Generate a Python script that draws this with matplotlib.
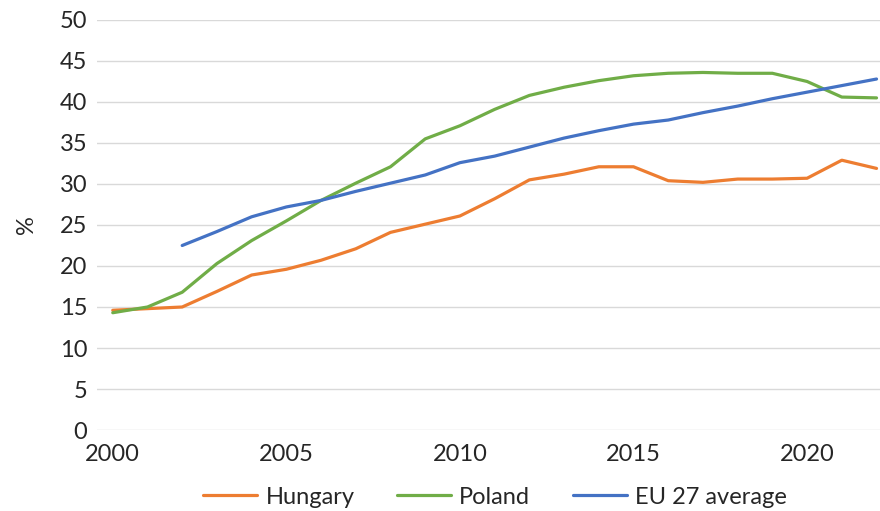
import matplotlib
matplotlib.use("Agg")
import matplotlib.pyplot as plt

plt.rcParams['font.family'] = ['Lato', 'DejaVu Sans']

years = list(range(2000, 2023))
hungary = [14.6, 14.8, 15.0, 16.9, 18.9, 19.6, 20.7, 22.1, 24.1, 25.1, 26.1, 28.2,
           30.5, 31.2, 32.1, 32.1, 30.4, 30.2, 30.6, 30.6, 30.7, 32.9, 31.9]
poland = [14.3, 15.0, 16.8, 20.3, 23.1, 25.5, 28.0, 30.1, 32.1, 35.5, 37.1, 39.1,
          40.8, 41.8, 42.6, 43.2, 43.5, 43.6, 43.5, 43.5, 42.5, 40.6, 40.5]
eu_years = list(range(2002, 2023))
eu27 = [22.5, 24.2, 26.0, 27.2, 28.0, 29.1, 30.1, 31.1, 32.6, 33.4, 34.5, 35.6,
        36.5, 37.3, 37.8, 38.7, 39.5, 40.4, 41.2, 42.0, 42.8]

fs = 17
txt = '#262626'

fig = plt.figure(figsize=(8.8, 5.11), dpi=100)
ax = fig.add_axes([0.110, 0.1585, 0.890, 0.8024])

lw = 2.3
ax.plot(years, hungary, color='#ED7D31', lw=lw, label='Hungary', solid_capstyle='round')
ax.plot(years, poland, color='#70AD47', lw=lw, label='Poland', solid_capstyle='round')
ax.plot(eu_years, eu27, color='#4472C4', lw=lw, label='EU 27 average', solid_capstyle='round')

ax.set_xlim(1999.54, 2022.1)
ax.set_ylim(0, 50)
ax.set_yticks(range(0, 51, 5))
ax.set_xticks(range(2000, 2021, 5))
ax.grid(axis='y', color='#D9D9D9', lw=1)
ax.set_axisbelow(True)
for s in ax.spines.values():
    s.set_visible(False)
ax.tick_params(axis='both', length=0, labelsize=fs, colors=txt)
ax.tick_params(axis='y', pad=7)
ax.tick_params(axis='x', pad=10)
ax.set_ylabel('%', fontsize=fs, color=txt, labelpad=16)

fig.legend(loc='center', bbox_to_anchor=(0.5625, 0.027), ncol=3, frameon=False,
           fontsize=fs, handlelength=2.3, handletextpad=0.34, columnspacing=1.8,
           labelcolor=txt)

fig.savefig('out.png', dpi=100)
